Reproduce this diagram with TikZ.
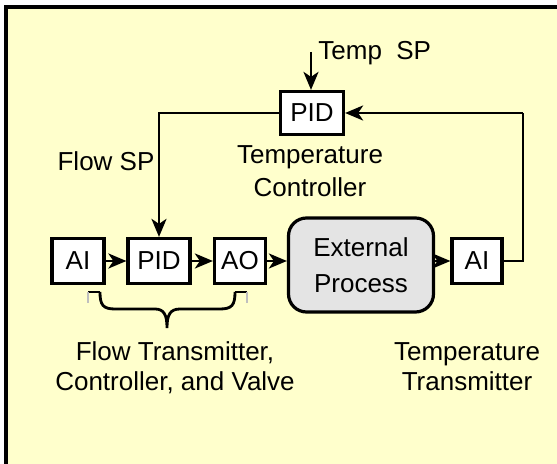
\documentclass[tikz,border=0pt]{standalone}
\usepackage{fontspec}
\setmainfont{Liberation Sans}
\usetikzlibrary{arrows.meta}
\definecolor{bgyellow}{HTML}{FFFFCC}
\definecolor{procgray}{HTML}{E4E4E4}
\begin{document}
\begin{tikzpicture}[x=0.5pt,y=-0.5pt,
  font=\fontsize{13}{16}\selectfont,
  blk/.style={draw, fill=white, line width=1.6pt, inner sep=0pt, minimum height=22.5pt},
  conn/.style={line width=1.4pt, -{Stealth[length=9pt,width=7.5pt,inset=2.5pt]}},
  plain/.style={line width=1.4pt},
  lbl/.style={align=center, inner sep=0pt}]
\useasboundingbox (0,0) rectangle (557,464);
\clip (0,0) rectangle (557,464);
\fill[white] (0,0) rectangle (557,464);
\draw[line width=1.6pt, fill=bgyellow] (6,7) rectangle (620,540);

% blocks
\node[blk, minimum width=31.5pt, minimum height=21.5pt] (pidT) at (312,113) {PID};
\node[blk, minimum width=26pt] (aiL) at (78,261) {AI};
\node[blk, minimum width=31pt] (pidM) at (159,261) {PID};
\node[blk, minimum width=25.5pt] (ao) at (240,261) {AO};
\node[draw, fill=procgray, line width=1.6pt, rounded corners=9pt, inner sep=0pt,
      minimum width=72.5pt, minimum height=47pt, align=center] (proc) at (361,265) {External\\[2pt]Process};
\node[blk, minimum width=25pt] (aiR) at (477,261) {AI};

% labels
\node[anchor=base west, inner sep=0pt] (tsplbl) at (318,60) {Temp\ \ SP};
\node[anchor=base, inner sep=0pt] (tc1) at (310,164) {Temperature};
\node[anchor=base, inner sep=0pt] (tc2) at (310,197) {Controller};
\node[anchor=base, inner sep=0pt] (fsp) at (106,171) {Flow SP};
\node[anchor=base, inner sep=0pt] (ft1) at (175,361) {Flow Transmitter,};
\node[anchor=base, inner sep=0pt] (ft2) at (175,391) {Controller, and Valve};
\node[anchor=base, inner sep=0pt] (tt1) at (467,361) {Temperature};
\node[anchor=base, inner sep=0pt] (tt2) at (467,391) {Transmitter};

% connectors
\coordinate (tsp) at (311,52);
\coordinate (cr) at (523,113);
\draw[conn] (tsp) -- (pidT.north -| tsp);
\draw[conn] (pidT.west) -| (pidM.north);
\draw[conn] (aiL.east) -- (pidM.west);
\draw[conn] (pidM.east) -- (ao.west);
\draw[conn] (ao.east) -- (proc.west |- ao.east);
\draw[conn] (proc.east |- aiR.west) -- (aiR.west);
\draw[plain] (aiR.east) -| (cr);
\draw[conn] (cr) -- (pidT.east);

% brace
\draw[plain] (100,292) .. controls (100,305) and (103,309) .. (115,309) -- (155,309)
  .. controls (164,309) and (167,315) .. (167,328)
  .. controls (167,315) and (170,309) .. (180,309) -- (220,309)
  .. controls (232,309) and (235,305) .. (235,292);
\draw[plain] (88,292) -- (100,292);
\draw[plain] (235,292) -- (247,292);
\draw[gray!50, line width=0.6pt] (88,292) -- (88,303);
\draw[gray!50, line width=0.6pt] (247,292) -- (247,303);
\end{tikzpicture}
\end{document}
